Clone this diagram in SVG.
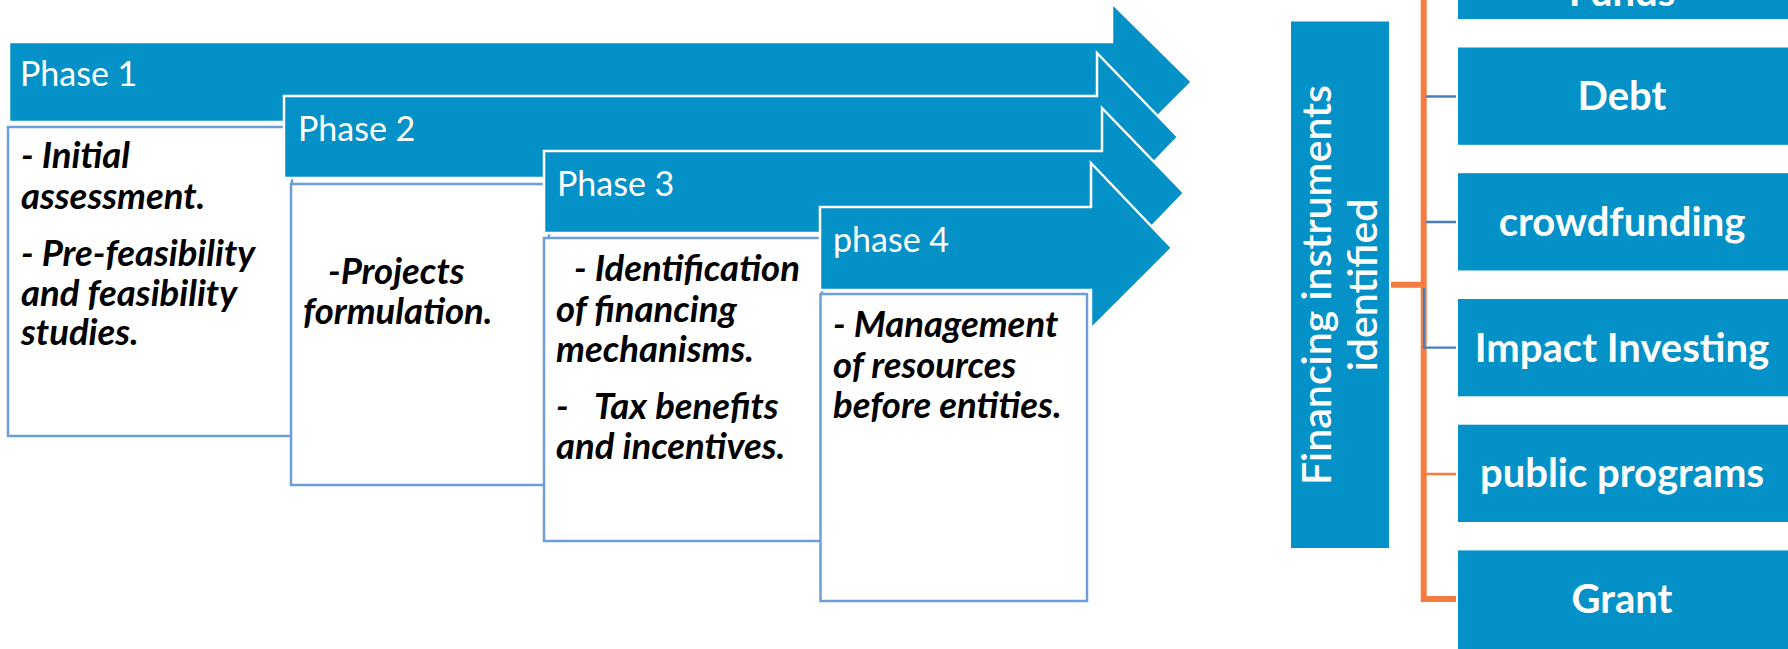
<svg xmlns="http://www.w3.org/2000/svg" width="1788" height="649" viewBox="0 0 1788 649">
<style>
.arrow{fill:#0391C7;stroke:#ffffff;stroke-width:2.5;}
.box{fill:#ffffff;stroke:#6C9FDA;stroke-width:2.5;}
.phase{font-family:Lato,"Liberation Sans",sans-serif;font-size:34px;fill:#ffffff;}
.body{font-family:Lato,"Liberation Sans",sans-serif;font-size:36.5px;font-weight:bold;font-style:italic;fill:#000000;}
.inst{fill:#0391C7;}
.instText{font-family:Lato,"Liberation Sans",sans-serif;font-size:40px;font-weight:bold;fill:#ffffff;text-anchor:middle;}
.fin{font-family:Lato,"Liberation Sans",sans-serif;font-size:41px;font-weight:600;fill:#ffffff;text-anchor:middle;}
</style>
<rect width="1788" height="649" fill="#ffffff"/>
<g id="phase1">
<path class="arrow" d="M9,42 H1112 V3 L1192,82 L1112,162 V122 H9 Z"/>
<text class="phase" x="20" y="86">Phase 1</text>
</g>
<g id="phase1-box">
<rect class="box" x="8" y="127" width="284" height="309"/>
<text class="body" x="21" y="168">- Initial</text>
<text class="body" x="21" y="209">assessment.</text>
<text class="body" x="21" y="266">- Pre-feasibility</text>
<text class="body" x="21" y="306">and feasibility</text>
<text class="body" x="21" y="345">studies.</text>
</g>
<g id="phase2">
<path class="arrow" d="M284,96 H1097 V53 L1178,137 L1097,221 V178 H284 Z"/>
<text class="phase" x="298" y="141">Phase 2</text>
</g>
<g id="phase2-box">
<rect class="box" x="291" y="184" width="258" height="301"/>
<text class="body" x="328" y="284">-Projects</text>
<text class="body" x="303" y="324">formulation.</text>
</g>
<g id="phase3">
<path class="arrow" d="M544,151 H1102 V108 L1184,193 L1102,278 V233 H544 Z"/>
<text class="phase" x="557" y="196">Phase 3</text>
</g>
<g id="phase3-box">
<rect class="box" x="544" y="238" width="278" height="303"/>
<text class="body" x="574" y="281">- Identification</text>
<text class="body" x="556" y="322">of financing</text>
<text class="body" x="556" y="362">mechanisms.</text>
<text class="body" x="556" y="419">-</text>
<text class="body" x="594" y="419">Tax benefits</text>
<text class="body" x="556" y="459">and incentives.</text>
</g>
<g id="phase4">
<path class="arrow" d="M820,207 H1091 V163 L1172,248 L1091,329 V290 H820 Z"/>
<text class="phase" x="833" y="252">phase 4</text>
</g>
<g id="phase4-box">
<rect class="box" x="820.5" y="294" width="266.5" height="307"/>
<text class="body" x="833" y="337">- Management</text>
<text class="body" x="833" y="378">of resources</text>
<text class="body" x="833" y="418">before entities.</text>
</g>
<g id="connectors" fill="none">
<path d="M1391,284.7 H1423.7 M1423.7,-5 V599 H1456" stroke="#F47C40" stroke-width="6"/>
<path d="M1426,474 H1456" stroke="#F47C40" stroke-width="2.5"/>
<path d="M1426,96.5 H1456 M1426,222 H1456 M1424,288 V347.7 H1456" stroke="#4A7EBB" stroke-width="2.3"/>
</g>
<g id="financing">
<rect class="inst" x="1291" y="21.5" width="98" height="526.5"/>
<text class="fin" transform="translate(1331,285) rotate(-90)" x="0" y="0">Financing instruments</text>
<text class="fin" transform="translate(1377,285) rotate(-90)" x="0" y="0">identified</text>
</g>
<g id="funds">
<rect class="inst" x="1458" y="-78" width="330" height="97"/>
<text class="instText" x="1622" y="6">Funds</text>
</g>
<g id="debt">
<rect class="inst" x="1458" y="47.5" width="330" height="97.3"/>
<text class="instText" x="1622" y="110">Debt</text>
</g>
<g id="crowdfunding">
<rect class="inst" x="1458" y="173.2" width="330" height="97.3"/>
<text class="instText" x="1622" y="236">crowdfunding</text>
</g>
<g id="impact">
<rect class="inst" x="1458" y="299" width="330" height="97.3"/>
<text class="instText" x="1622" y="361.5">Impact Investing</text>
</g>
<g id="public">
<rect class="inst" x="1458" y="424.7" width="330" height="97.3"/>
<text class="instText" x="1622" y="487">public programs</text>
</g>
<g id="grant">
<rect class="inst" x="1458" y="550.4" width="330" height="98.6"/>
<text class="instText" x="1622" y="613">Grant</text>
</g>
</svg>
